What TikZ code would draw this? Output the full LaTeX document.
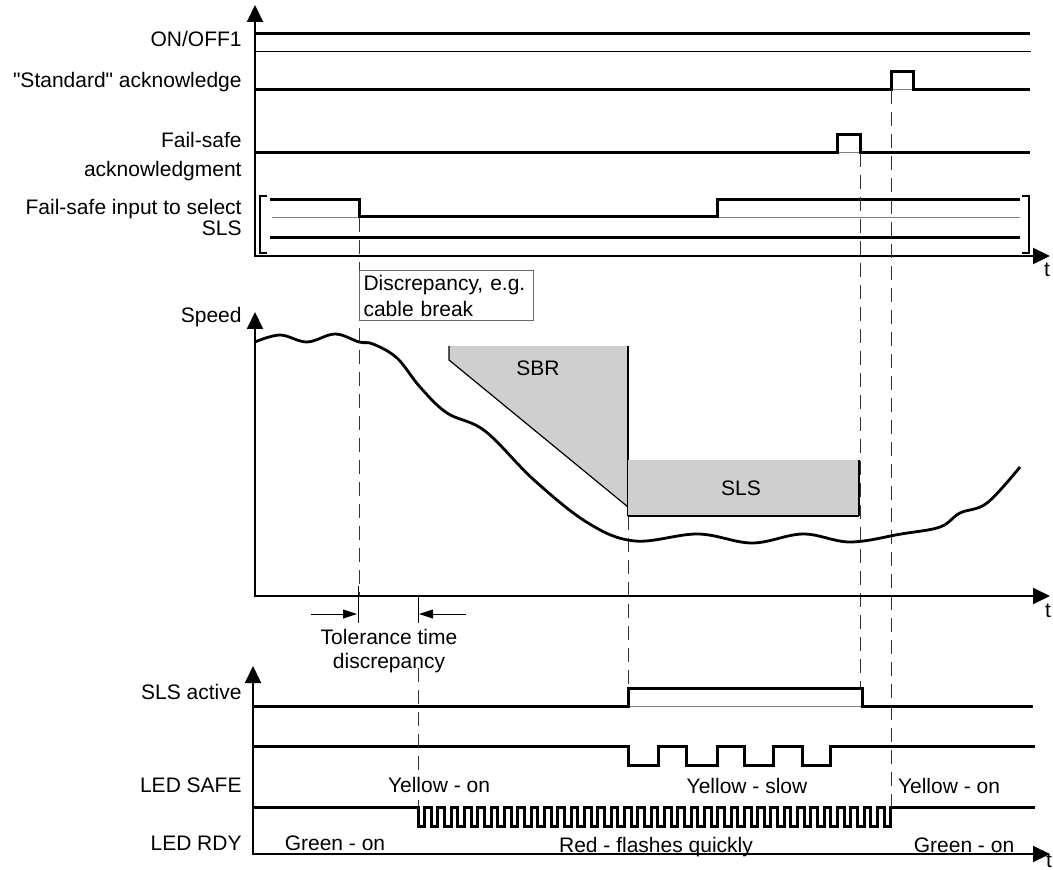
\documentclass[tikz,border=0pt]{standalone}
\usepackage{fontspec}
\setmainfont{Liberation Sans}[Ligatures=TeXOff]
\usepackage{tikz}
\usetikzlibrary{arrows.meta}
\tikzset{
  axes/.style={{Triangle[length=8.5pt,width=8pt]}-{Triangle[length=8.5pt,width=8pt]},line width=1pt},
  sig/.style={line width=1.5pt,line join=miter},
  base/.style={line width=0.5pt,black!50},
  guide/.style={line width=0.5pt,black!80,dash pattern=on 7pt off 4pt},
  lbl/.style={anchor=base east,inner sep=0pt},
  txt/.style={anchor=base,inner sep=0pt},
  zone/.style={fill=black!19},
  tol/.style={-{Triangle[length=7pt,width=4.5pt]},line width=0.5pt},
  speed/.style={line width=1.4pt,line join=round},
}

\begin{document}
\begin{tikzpicture}[x=0.5pt,y=-0.5pt,font=\fontsize{10.5}{13}\selectfont]
  \useasboundingbox (0,0) rectangle (1053,870);
  % event times
  \def\tA{359}  % discrepancy
  \def\tB{418}  % end of tolerance time
  \def\tC{628}  % SLS active
  \def\tD{860}  % fail-safe acknowledgment
  \def\tE{891}  % standard acknowledge
  % ---- top: inputs ----
  \draw[axes] (255,5) -- (255,256) -- (1050,256);
  \node[txt] (t1) at (1047,277) {t};
  \node[lbl] (onoff) at (242,47) {ON/OFF1};
  \draw[sig] (255,34) -- (1030,34);
  \draw[line width=0.5pt] (255,52) -- (1031,52);
  \node[lbl] (stdack) at (242,88) {"Standard" acknowledge};
  \draw[base] (\tE,90) -- (913,90);
  \draw[sig] (255,90) -- (\tE,90) |- (913,72) -- (913,90) -- (1030,90);
  \node[lbl] (fsack) at (242,148) {Fail-safe};
  \node[lbl] (fsack2) at (242,177) {acknowledgment};
  \draw[base] (837,153) -- (\tD,153);
  \draw[sig] (255,153) -- (837,153) |- (\tD,135) -- (\tD,153) -- (1030,153);
  \node[lbl] (fsin) at (242,215) {Fail-safe input to select};
  \node[lbl] (fsin2) at (242,236) {SLS};
  \draw[base] (272,218) -- (1020,218);
  \draw[sig] (270,200) -- (\tA,200) -- (\tA,217) -- (717,217) -- (717,200) -- (1020,200);
  \draw[sig] (270,238) -- (1020,238);
  \draw[line width=0.8pt] (267,196) -- (260,196) -- (260,253) -- (267,253);
  \draw[line width=0.8pt] (1022,196) -- (1029,196) -- (1029,253) -- (1022,253);
  % ---- middle: speed ----
  \draw[guide] (\tA,218) -- (\tA,596);
  \draw[guide] (\tD,153) -- (\tD,688);
  \draw[guide] (\tE,90) -- (\tE,807);
  \draw[guide] (\tC,516) -- (\tC,688);
  \draw[guide] (\tB,668) -- (\tB,807);
  \node[draw=black!60,line width=0.5pt,fill=white,anchor=north west,inner sep=2pt,
    text width=83pt,minimum height=25pt,align=left] (disc) at (\tA,270)
    {Discrepancy, e.g.\\cable break};
  \draw[axes] (255,312) -- (255,596) -- (1050,596);
  \node[txt] (t2) at (1048,617) {t};
  \node[lbl] (speed) at (242,323) {Speed};
  \fill[zone] (449,346) -- (449,360) -- (\tC,507) -- (\tC,346) -- cycle;
  \draw[line width=0.6pt] (449,346) -- (449,360) -- (\tC,507);
  \draw[line width=0.6pt] (\tC,346) -- (\tC,516);
  \node (sbr) at (538,368) {SBR};
  \fill[zone] (\tC,460) rectangle (859,516);
  \draw[line width=0.6pt] (859,460) -- (859,516);
  \draw[line width=1pt] (\tC,516) -- (859,516);
  \node (sls) at (741,488) {SLS};
  \draw[speed] plot[smooth,tension=0.6] coordinates {(255,342) (280,335) (307,342) (335,334)
    (359,342) (373,344) (397,358) (420,387) (447,413) (485,431) (534,480)
    (588,523) (635,541) (698,534) (752,543) (803,534) (850,542) (901,534) (940,527)
    (960,513) (987,503) (1020,467)};
  % tolerance time
  \draw[line width=0.5pt] (358,586) -- (358,623);
  \draw[line width=0.5pt] (\tB,596) -- (\tB,623);
  \draw[tol] (311,614) -- (357,614);
  \draw[tol] (466,614) -- (419,614);
  \node[txt] (tol1) at (389,644) {Tolerance time};
  \node[txt] (tol2) at (389,668) {discrepancy};
  % ---- bottom: status ----
  \draw[axes] (253,666) -- (253,854) -- (1050,854);
  \node[txt] (t3) at (1049,867) {t};
  \node[lbl] (slsact) at (242,699) {SLS active};
  \draw[base] (\tC,706) -- (862,706);
  \draw[sig] (253,706) -- (\tC,706) |- (862,688) -- (862,706) -- (1033,706);
  \node[lbl] (ledsafe) at (242,792) {LED SAFE};
  \draw[sig] (253,746)
    \foreach \a/\b in {628/658,686/717,744/773,802/830}{ -- (\a,746) -- (\a,765) -- (\b,765) -- (\b,746)}
    -- (1035,746);
  \node[txt] at (439,792) {Yellow - on};
  \node[txt] at (747,793) {Yellow - slow};
  \node[txt] at (949,793) {Yellow - on};
  \node[lbl] (ledrdy) at (242,850) {LED RDY};
  \draw[sig] (253,807) -- (\tB,807)
    \foreach \k in {1,...,35}{ -- ++(0,19) -- ++(6.66,0) -- ++(0,-19) -- ++(6.66,0)}
    -- ++(0,19) -- ++(6.66,0) -- ++(0,-19) -- (1035,807);
  \node[txt] at (335,850) {Green - on};
  \node[txt] at (656,852) {Red - flashes quickly};
  \node[txt] at (964,852) {Green - on};
\end{tikzpicture}
\end{document}
